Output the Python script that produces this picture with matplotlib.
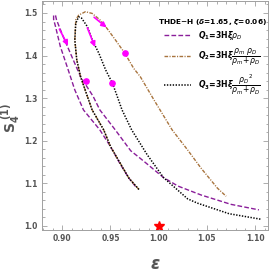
import matplotlib
matplotlib.use("Agg")
import matplotlib.pyplot as plt
from matplotlib.ticker import MultipleLocator

plt.rcParams['mathtext.fontset'] = 'dejavusans'

# ---- data ----
q1_x = [0.976, 0.969, 0.960, 0.950, 0.939, 0.922, 0.913, 0.905, 0.898, 0.893, 0.891, 0.891,
        0.893, 0.894, 0.901, 0.910, 0.919, 0.932, 0.939, 0.955, 0.971, 0.981, 0.988,
        1.005, 1.020, 1.044, 1.075, 1.104]
q1_y = [1.092, 1.112, 1.145, 1.186, 1.225, 1.272, 1.319, 1.374, 1.421, 1.468, 1.485, 1.495,
        1.494, 1.484, 1.444, 1.397, 1.350, 1.304, 1.272, 1.225, 1.176, 1.158, 1.145,
        1.113, 1.093, 1.072, 1.050, 1.037]

q2_x = [0.9795, 0.969, 0.950, 0.943, 0.931, 0.926, 0.919, 0.915, 0.913, 0.914, 0.917,
        0.924, 0.931, 0.939, 0.945, 0.955, 0.965, 0.974, 0.981, 0.995, 1.014, 1.030,
        1.044, 1.061, 1.070]
q2_y = [1.085, 1.112, 1.186, 1.225, 1.272, 1.304, 1.350, 1.390, 1.437, 1.484, 1.495,
        1.503, 1.499, 1.484, 1.468, 1.437, 1.405, 1.370, 1.350, 1.296, 1.225, 1.178,
        1.135, 1.088, 1.069]

q3_x = [0.9795, 0.969, 0.950, 0.943, 0.931, 0.926, 0.919, 0.915, 0.913, 0.914, 0.917,
        0.920, 0.926, 0.931, 0.938, 0.945, 0.952, 0.957, 0.962, 0.972, 0.988, 1.005,
        1.030, 1.040, 1.073, 1.106]
q3_y = [1.085, 1.112, 1.186, 1.225, 1.272, 1.304, 1.350, 1.390, 1.437, 1.476, 1.491,
        1.488, 1.468, 1.437, 1.405, 1.366, 1.335, 1.304, 1.272, 1.225, 1.167, 1.113,
        1.063, 1.053, 1.028, 1.015]

arrow_tail_x = [0.897, 0.926, 0.933]
arrow_tail_y = [1.462, 1.465, 1.490]
arrow_head_x = [0.906, 0.934, 0.946]
arrow_head_y = [1.423, 1.420, 1.466]

dot_x = [0.925, 0.952, 0.965]
dot_y = [1.339, 1.335, 1.405]

star_x = [1.0]
star_y = [1.0]

x_ticks = [0.90, 0.95, 1.00, 1.05, 1.10]
y_ticks = [1.0, 1.1, 1.2, 1.3, 1.4, 1.5]

title_text = 'THDE\u2212H ($\\mathbfit{\\delta}$=1.65, $\\mathbfit{\\xi}$=0.06)'
labels = [r'$\mathbfit{Q}_\mathbf{1}$=3H$\mathbfit{\xi}\rho_D$',
          r'$\mathbfit{Q}_\mathbf{2}$=3H$\mathbfit{\xi}\dfrac{\rho_m\ \rho_D}{\rho_m\!+\!\rho_D}$',
          r'$\mathbfit{Q}_\mathbf{3}$=3H$\mathbfit{\xi}\dfrac{{\rho_D}^2}{\rho_m\!+\!\rho_D}$']

purple = '#8a1e9a'
brown = '#a8743e'
gray_txt = '#555555'
gray_sp = '#a0a0a0'

fig = plt.figure(figsize=(2.73, 2.73), dpi=100)
ax = fig.add_axes([0.154, 0.158, 0.828, 0.838])

l1, = ax.plot(q1_x, q1_y, color=purple, lw=1.0, dashes=(3.4, 1.6), label=labels[0])
l2, = ax.plot(q2_x, q2_y, color=brown, lw=1.0, dashes=(2.6, 1.0, 0.8, 1.0), label=labels[1])
l3, = ax.plot(q3_x, q3_y, color='black', lw=1.1, dashes=(0.9, 1.0), label=labels[2])

for tx, ty, hx, hy in zip(arrow_tail_x, arrow_tail_y, arrow_head_x, arrow_head_y):
    ax.annotate('', xy=(hx, hy), xytext=(tx, ty),
                arrowprops=dict(arrowstyle='-|>', color='magenta', lw=1.2,
                                mutation_scale=7.5, shrinkA=0, shrinkB=0))
ax.plot(dot_x, dot_y, 'o', color='magenta', ms=3.8, mec='magenta')
ax.plot(star_x, star_y, '*', color='red', ms=7, clip_on=False)

ax.set_xlim(0.879, 1.1135)
ax.set_ylim(0.99, 1.528)
ax.set_xticks(x_ticks)
ax.set_xticklabels(['%.2f' % v for v in x_ticks])
ax.set_yticks(y_ticks)
ax.set_yticklabels(['%.1f' % v for v in y_ticks])
ax.xaxis.set_minor_locator(MultipleLocator(0.01))
ax.yaxis.set_minor_locator(MultipleLocator(0.02))
ax.tick_params(which='both', direction='in', top=True, right=True,
               colors=gray_sp, labelcolor=gray_txt, labelsize=5.5, width=0.6)
ax.tick_params(which='major', length=3.5, pad=3)
ax.tick_params(which='minor', length=1.8)
for lab in ax.get_xticklabels() + ax.get_yticklabels():
    lab.set_fontweight('bold')
for sp in ax.spines.values():
    sp.set_color(gray_sp)
    sp.set_linewidth(0.7)

ax.set_xlabel(r'$\mathbfit{\epsilon}$', fontsize=12, color=gray_txt)
ax.xaxis.set_label_coords(0.5, -0.11)
ax.set_ylabel(r'$\mathbf{S_4^{\ (1)}}$', fontsize=10, color=gray_txt)
ax.yaxis.set_label_coords(-0.088, 0.49)

ax.text(0.996, 0.91, title_text, transform=ax.transAxes, ha='right', va='center',
        fontsize=5.3, fontweight='bold', color='black')

leg = ax.legend(handles=[l1, l2, l3], loc='upper left', bbox_to_anchor=(0.54, 0.878),
                frameon=False, handlelength=3.5, handletextpad=0.9,
                labelspacing=0.55, borderpad=0.0, borderaxespad=0.0,
                prop={'size': 5.6, 'weight': 'bold'})

fig.savefig('out.png', dpi=100)
